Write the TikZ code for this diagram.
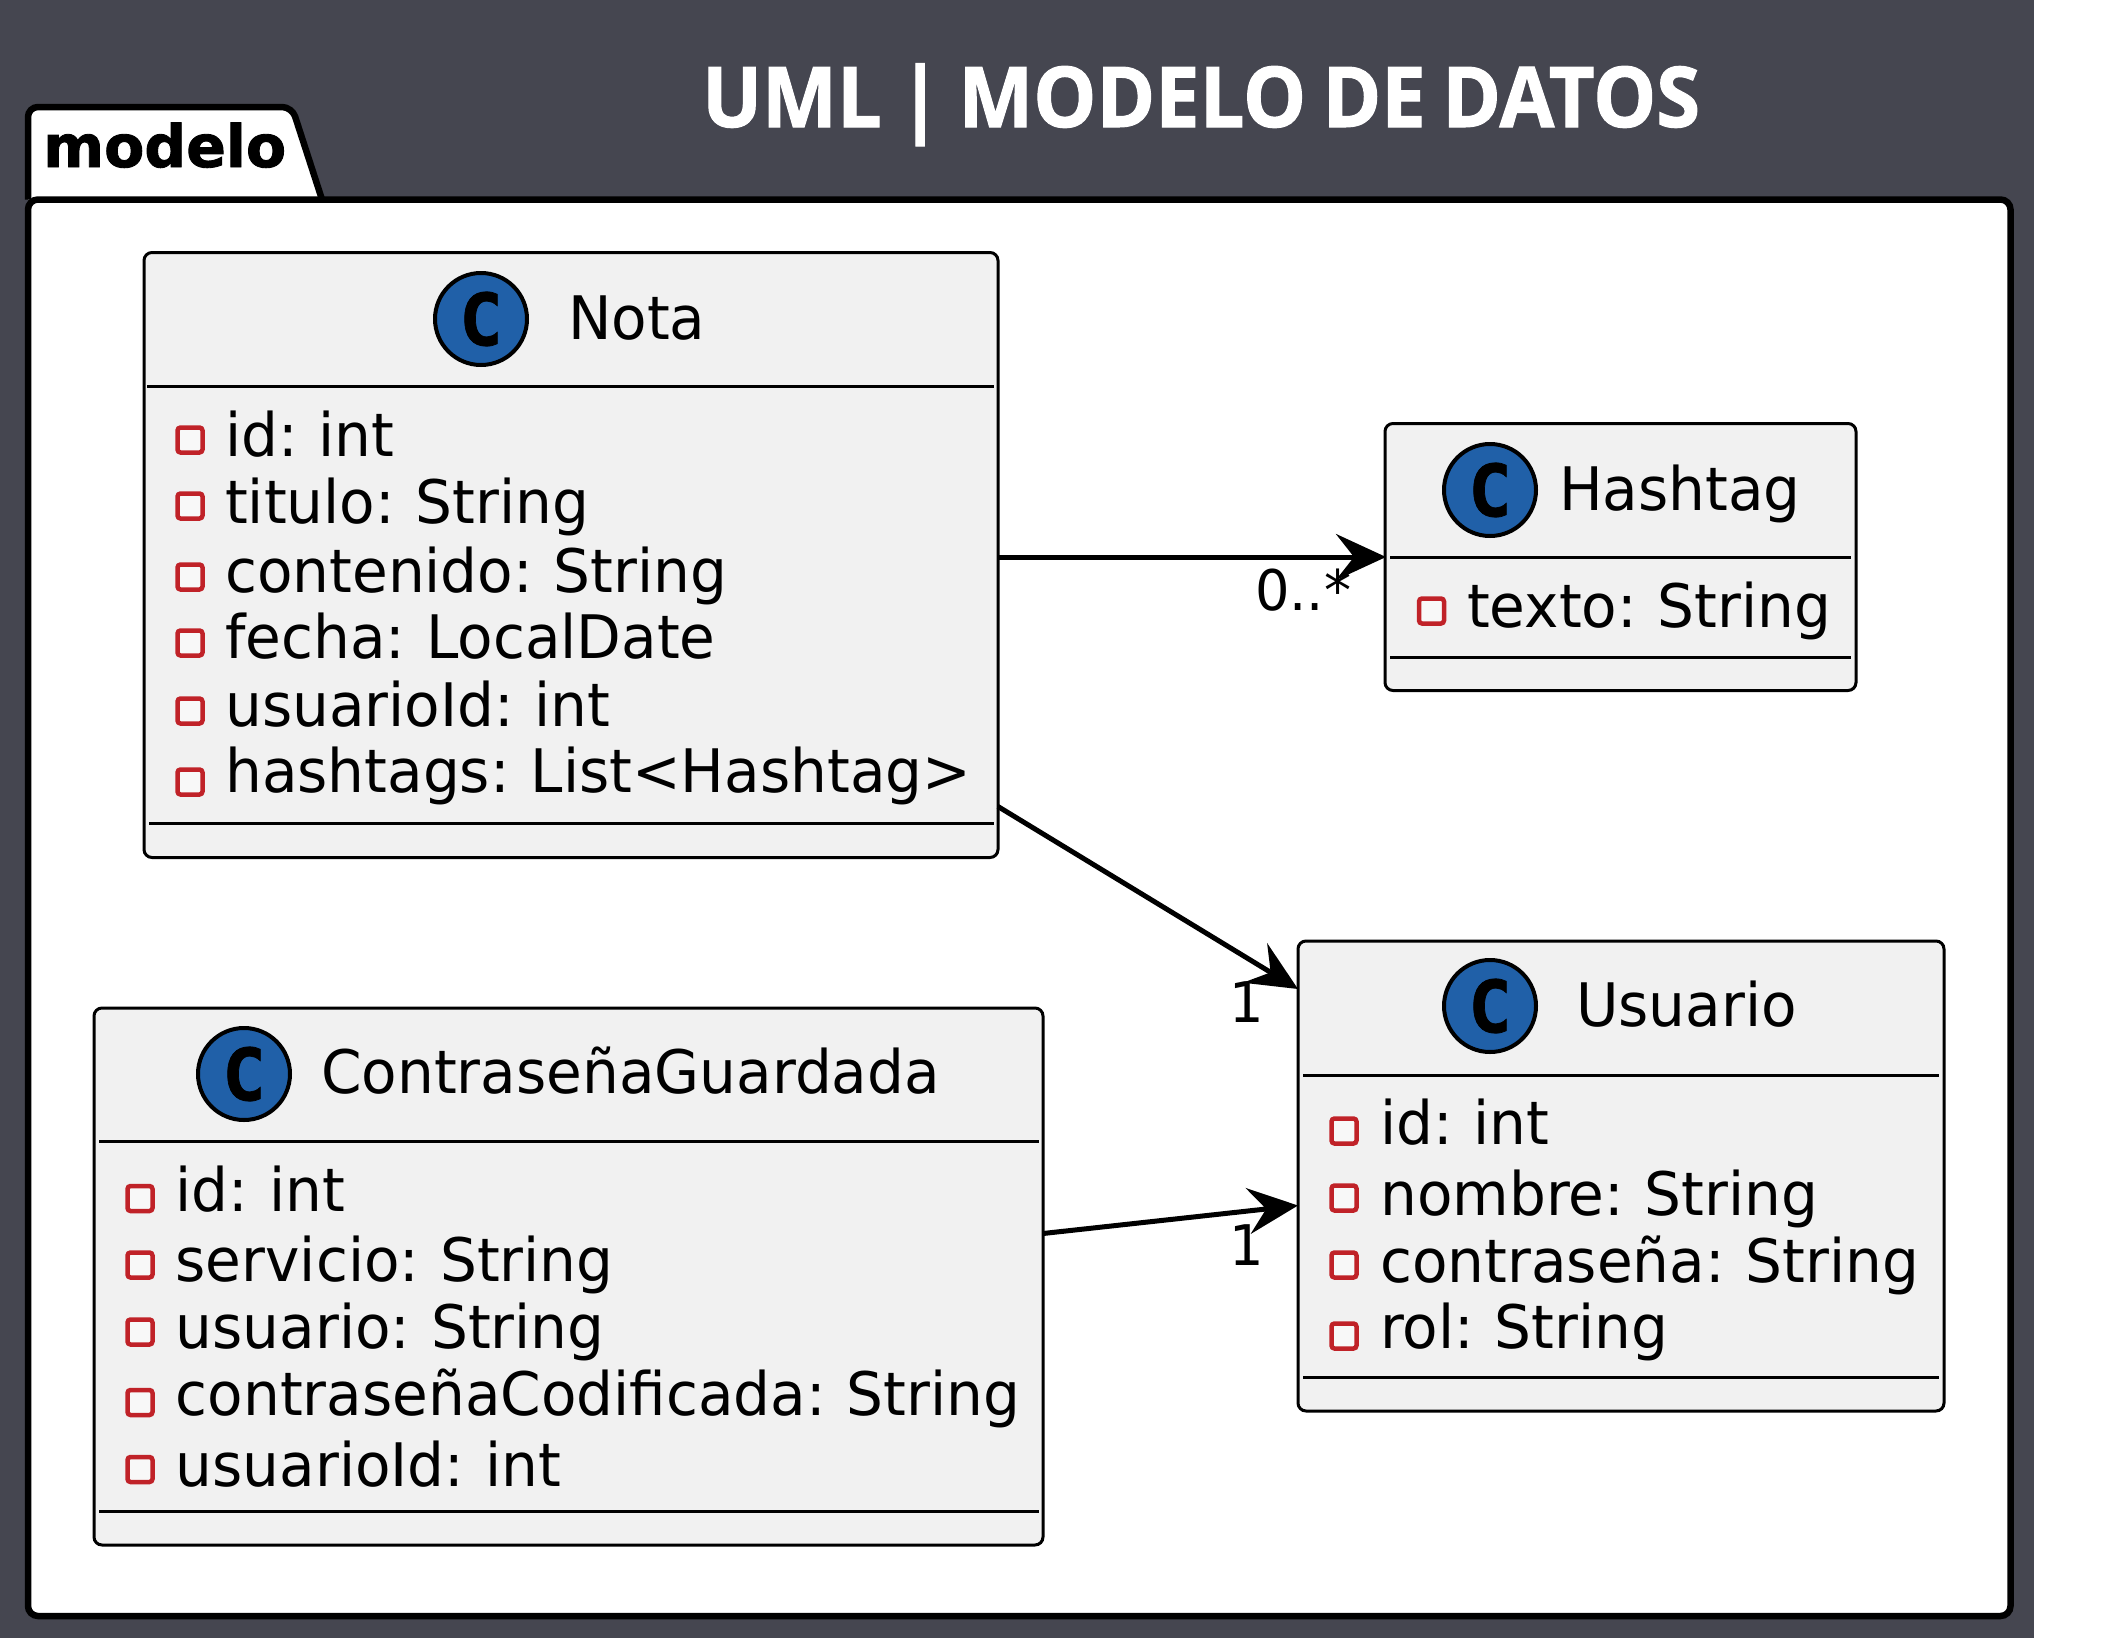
\documentclass[tikz,border=0pt]{standalone}
\usepackage{fontspec}
\setmainfont{DejaVu Sans}[FakeStretch=0.968, WordSpace=0.8]
\newfontfamily\fuentetitulo{Open Sans}[BoldFeatures={FakeStretch=0.945, FakeBold=1.2}, WordSpace=0.8]
\newfontfamily\fuentepaquete{DejaVu Sans}[BoldFeatures={FakeBold=1.5}]
\newfontfamily\fuentemono{DejaVu Sans Mono}[BoldFeatures={FakeBold=1}]
\usetikzlibrary{arrows.meta,positioning}

\definecolor{fondo}{HTML}{454650}
\definecolor{caja}{HTML}{F1F1F1}
\definecolor{azulc}{HTML}{2060A8}
\definecolor{rojoatr}{HTML}{C02228}

\tikzset{
  clase/.style={draw=black, fill=caja, line width=3pt, rounded corners=8pt, inner sep=0pt, outer sep=0pt},
  divisor/.style={draw=black, line width=3pt},
  icono/.style={draw=rojoatr, fill=caja!50!white, line width=4.5pt, rounded corners=3pt, minimum size=25pt, inner sep=0pt},
  circuloc/.style={circle, draw=black, fill=azulc, line width=4pt, minimum size=92pt, inner sep=0pt, font=\fontsize{72pt}{72pt}\selectfont\fuentemono\bfseries},
  nombreclase/.style={anchor=base west, inner sep=0pt, font=\fontsize{60pt}{60pt}\selectfont},
  atributo/.style={anchor=base west, inner sep=0pt, font=\fontsize{60pt}{60pt}\selectfont},
  multiplicidad/.style={anchor=base west, inner sep=0pt, font=\fontsize{56pt}{56pt}\selectfont},
  flecha/.style={draw=black, line width=5pt, -{Stealth[length=50pt, width=46pt, inset=18pt]}}
}

\begin{document}
\begin{tikzpicture}[x=1pt, y=-1pt]
\useasboundingbox (0,0) rectangle (2113,1638);

% Fondo oscuro
\fill[white] (0,0) rectangle (2113,1638);
\fill[fondo] (0,0) rectangle (2034,1638);

% Titulo
\node[anchor=base, inner sep=0pt, text=white, font=\fontsize{84pt}{84pt}\selectfont\fuentetitulo\bfseries] (titulo) at (1201,127) {UML | MODELO DE DATOS};

% Paquete modelo
\draw[fill=white, line width=6.5pt, rounded corners=10pt] (28,199.5) -- (28,107) -- (292,107) -- (322,199.5);
\draw[fill=white, line width=6.5pt, rounded corners=10pt] (28,199.5) rectangle (2010.5,1616);
\node[anchor=base west, inner sep=0pt, font=\fontsize{58.5pt}{59pt}\selectfont\fuentepaquete\bfseries] (paquete) at (43,167) {modelo};

% Clase Nota
\node[clase, minimum width=854pt, minimum height=605pt] (Nota) at (571,555) {};
\draw[divisor] (147,386) -- (994,386);
\draw[divisor] (149,823) -- (994,823);
\node[circuloc] (cNota) at (481,319) {C};
\node[nombreclase] (nNota) at (568,339) {Nota};
\node[icono] (iN1) at (190,440) {};
\node[atributo] (aN1) at (225,456) {id: int};
\node[icono] (iN2) at (190,506) {};
\node[atributo] (aN2) at (225,523) {titulo: String};
\node[icono] (iN3) at (190,577) {};
\node[atributo] (aN3) at (225,592) {contenido: String};
\node[icono] (iN4) at (190,643) {};
\node[atributo] (aN4) at (225,658) {fecha: LocalDate};
\node[icono] (iN5) at (190,711) {};
\node[atributo] (aN5) at (225,726) {usuarioId: int};
\node[icono] (iN6) at (190,782) {};
\node[atributo] (aN6) at (225,792) {hashtags: List<Hashtag>};

% Clase Hashtag
\node[clase, minimum width=471pt, minimum height=267pt] (Hashtag) at (1620.5,557) {};
\draw[divisor] (1390,557) -- (1851,557);
\draw[divisor] (1390,657) -- (1851,657);
\node[circuloc] (cHashtag) at (1490,490) {C};
\node[nombreclase] (nHashtag) at (1559,510) {Hashtag};
\node[icono] (iH1) at (1431.5,611) {};
\node[atributo] (aH1) at (1467,627) {texto: String};

% Clase Usuario
\node[clase, minimum width=646pt, minimum height=470pt] (Usuario) at (1621,1176) {};
\draw[divisor] (1303,1075) -- (1939,1075);
\draw[divisor] (1303,1377) -- (1939,1377);
\node[circuloc] (cUsuario) at (1490,1006) {C};
\node[nombreclase] (nUsuario) at (1576,1026) {Usuario};
\node[icono] (iU1) at (1344,1131) {};
\node[atributo] (aU1) at (1380,1144) {id: int};
\node[icono] (iU2) at (1344,1198) {};
\node[atributo] (aU2) at (1380,1215) {nombre: String};
\node[icono] (iU3) at (1344,1265) {};
\node[atributo] (aU3) at (1380,1282) {contraseña: String};
\node[icono] (iU4) at (1344,1336) {};
\node[atributo] (aU4) at (1380,1348) {rol: String};

% Clase ContraseñaGuardada
\node[clase, minimum width=949pt, minimum height=537pt] (Contrasena) at (568.5,1276.5) {};
\draw[divisor] (99,1141) -- (1039,1141);
\draw[divisor] (99,1511) -- (1039,1511);
\node[circuloc] (cContrasena) at (244,1074) {C};
\node[nombreclase] (nContrasena) at (321,1093) {ContraseñaGuardada};
\node[icono] (iC1) at (140,1198.5) {};
\node[atributo] (aC1) at (175.5,1211) {id: int};
\node[icono] (iC2) at (140,1265) {};
\node[atributo] (aC2) at (175.5,1281) {servicio: String};
\node[icono] (iC3) at (140,1332) {};
\node[atributo] (aC3) at (175.5,1348) {usuario: String};
\node[icono] (iC4) at (140,1402.5) {};
\node[atributo] (aC4) at (175.5,1415) {contraseñaCodificada: String};
\node[icono] (iC5) at (140,1469.5) {};
\node[atributo] (aC5) at (175.5,1486) {usuarioId: int};

% Relaciones
\draw[flecha] (Nota.east |- Hashtag.west) -- ([xshift=1pt]Hashtag.west);
\draw[flecha] ([yshift=-251.5pt]Nota.east) -- ([yshift=187pt]Usuario.west);
\draw[flecha] ([yshift=43pt]Contrasena.east) -- ([yshift=-29.5pt]Usuario.west);

% Multiplicidades
\node[multiplicidad] (mH) at (1255,610) {0..*};
\node[multiplicidad] (mU1) at (1229,1022) {1};
\node[multiplicidad] (mU2) at (1229,1265) {1};

\end{tikzpicture}
\end{document}
